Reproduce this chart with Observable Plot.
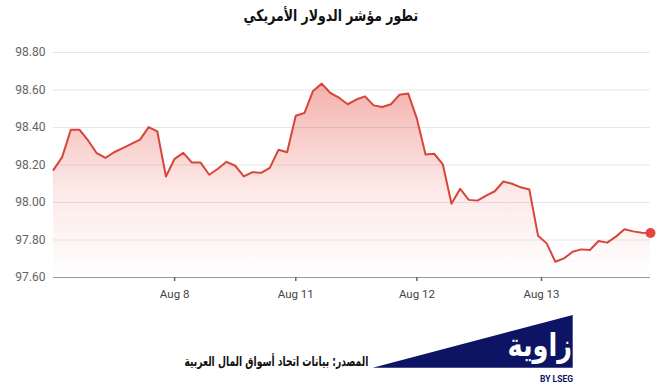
<!DOCTYPE html>
<html><head><meta charset="utf-8">
<script src="https://cdn.jsdelivr.net/npm/d3@7"></script>
<script src="https://cdn.jsdelivr.net/npm/@observablehq/plot@0.6"></script>
<style>
html,body{margin:0;padding:0;background:#fff}
body{width:662px;height:385px;overflow:hidden;font-family:Roboto,"DejaVu Sans",sans-serif}
#title{height:34px;line-height:32px;text-align:center;font-size:16px;font-weight:bold;direction:rtl;font-family:"DejaVu Sans",sans-serif;color:#111}
#title span{display:inline-block;transform:scaleX(0.78);transform-origin:center}
#chart svg{display:block}
#footer{position:relative;height:73px}
#source{position:absolute;right:294px;top:41px;font-family:"DejaVu Sans",sans-serif;font-weight:bold;font-size:13.5px;direction:rtl;color:#111;white-space:nowrap;transform:scaleX(0.68);transform-origin:right center}
#logo{position:absolute;left:372px;top:0}
</style></head><body>
<div id="title"><span>تطور مؤشر الدولار الأمريكي</span></div>
<div id="chart"></div>
<div id="footer">
  <div id="source">المصدر: بيانات اتحاد أسواق المال العربية</div>
  <svg id="logo" width="210" height="73">
    <polygon points="0.7,55.7 200.7,3 200.7,55.7" fill="#0d1464"></polygon>
    <text x="0" y="0" transform="translate(200,44) scale(0.8,1)" text-anchor="end" fill="#fff" font-family="DejaVu Sans" font-weight="bold" font-size="32">زاوية</text>
    <text x="201" y="70" text-anchor="end" fill="#0d1464" font-family="Roboto" font-weight="bold" font-size="8.5">BY LSEG</text>
  </svg>
</div>
<script>
const values = [
  98.174, 98.242, 98.388, 98.388, 98.331, 98.263, 98.238, 98.268, 98.290, 98.313,
  98.335, 98.402, 98.379, 98.139, 98.233, 98.265, 98.213, 98.213, 98.148, 98.180,
  98.217, 98.196, 98.139, 98.162, 98.158, 98.185, 98.281, 98.268, 98.463, 98.477,
  98.595, 98.634, 98.584, 98.559, 98.524, 98.549, 98.566, 98.518, 98.509, 98.524,
  98.575, 98.581, 98.447, 98.256, 98.260, 98.203, 97.993, 98.073, 98.014, 98.010,
  98.037, 98.060, 98.112, 98.100, 98.081, 98.069, 97.823, 97.782, 97.684, 97.702,
  97.737, 97.750, 97.747, 97.795, 97.786, 97.818, 97.857, 97.846, 97.839, 97.837
];
const tickPositions = [14, 28, 42, 56.4];
const tickLabels = ["Aug 8", "Aug 11", "Aug 12", "Aug 13"];
const yTicks = [97.6, 97.8, 98.0, 98.2, 98.4, 98.6, 98.8];

const data = values.map((v, i) => ({i, v}));
const last = [data[data.length - 1]];
const labelOf = new Map(tickPositions.map((p, k) => [p, tickLabels[k]]));

const chart = Plot.plot({
  width: 662,
  height: 278,
  marginTop: 18,
  marginBottom: 35,
  marginLeft: 53,
  marginRight: 12,
  style: {fontFamily: "Roboto, sans-serif", background: "transparent"},
  x: {domain: [0, values.length - 1], axis: null, label: null},
  y: {domain: [97.6, 98.8], axis: null, label: null},
  marks: [
    Plot.gridY(yTicks.slice(1), {stroke: "#e6e6e6", strokeOpacity: 1, strokeWidth: 1}),
    Plot.areaY(data, {x: "i", y1: 97.6, y2: "v", fill: "url(#redfade)", curve: "linear"}),
    Plot.ruleY([97.6], {stroke: "#9a9a9a", strokeWidth: 1.2}),
    Plot.axisY(yTicks, {label: null, tickSize: 0, tickPadding: 8, fontSize: 12, fill: "#5f6368", tickFormat: d => d.toFixed(2)}),
    Plot.axisX(tickPositions, {label: null, tickSize: 4, tickPadding: 8, fontSize: 11.5, fill: "#444", stroke: "#666", strokeWidth: 1.5, tickFormat: d => labelOf.get(d)}),
    Plot.lineY(data, {x: "i", y: "v", stroke: "#d8453a", strokeWidth: 2, curve: "linear"}),
    Plot.dot(last, {x: "i", y: "v", r: 5, fill: "#e2463c", stroke: "none"})
  ]
});
const ns = "http://www.w3.org/2000/svg";
const defs = document.createElementNS(ns, "defs");
defs.innerHTML = '<linearGradient id="redfade" x1="0" y1="0" x2="0" y2="1">' +
  '<stop offset="0" stop-color="#e5473c" stop-opacity="0.42"/>' +
  '<stop offset="0.55" stop-color="#e5473c" stop-opacity="0.12"/>' +
  '<stop offset="1" stop-color="#e5473c" stop-opacity="0"/></linearGradient>';
chart.insertBefore(defs, chart.firstChild);
document.getElementById("chart").appendChild(chart);
</script>
</body></html>
